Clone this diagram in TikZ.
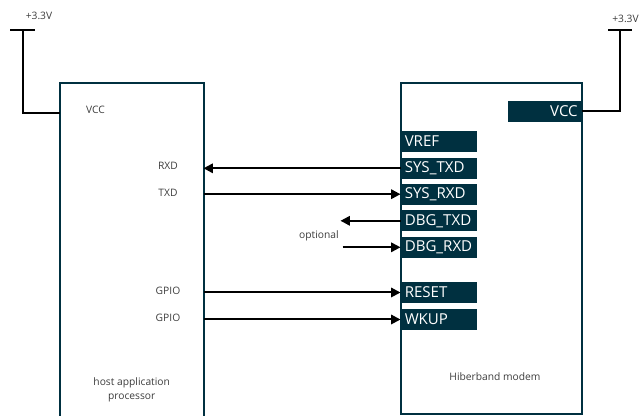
\documentclass[tikz,border=0pt]{standalone}
\usepackage{fontspec}
\setmainfont{Open Sans}
\usetikzlibrary{arrows.meta}
\definecolor{chipteal}{RGB}{0,48,64}
\definecolor{labelgray}{RGB}{60,60,60}

\begin{document}
\begin{tikzpicture}[x=0.75pt,y=-0.75pt]

%
% Styles
%
\tikzstyle{chip}   = [draw=chipteal,line width=1.5pt]
\tikzstyle{wire}   = [draw=black,line width=1.5pt]
\tikzstyle{signal} = [wire,-{Triangle[length=7pt,width=7pt]}]
\tikzstyle{label}  = [text=labelgray,font=\fontsize{7.7}{10.5}\selectfont,inner sep=0pt]
\tikzstyle{pin}    = [fill=chipteal,text=white,anchor=west,minimum width=57pt,minimum height=15.5pt,
                      inner xsep=3pt,inner ysep=0pt,align=left,text width=51pt,font=\fontsize{11.3}{12}\selectfont]

\useasboundingbox (0,0) rectangle (643,416);

% the two chips
\draw[chip] (60,83) rectangle (203.5,422);
\draw[chip] (400.5,83) rectangle (582,414.5);

\node[label] (hostname) at (131.7,389.5) [align=center] {host application\\processor};
\node[label] (modemname) at (495,377) {Hiberband modem};

% host side pin labels
\node[label] (hostvcc)  at (95.5,110)  {VCC};
\node[label] (hostrxd)  at (168,165.7) {RXD};
\node[label] (hosttxd)  at (168,192.7) {TXD};
\node[label] (hostgpioa) at (168,290.7) {GPIO};
\node[label] (hostgpiob) at (168,317.7) {GPIO};

% modem side pins
\node[pin,anchor=east,align=right,minimum width=55pt,text width=49pt] (vcc) at (582,111.2) {VCC};
\node[pin] (vref)   at (400.5,141.3) {VREF};
\node[pin] (systxd) at (400.5,168.3) {SYS\_TXD};
\node[pin] (sysrxd) at (400.5,194.2) {SYS\_RXD};
\node[pin] (dbgtxd) at (400.5,220.8) {DBG\_TXD};
\node[pin] (dbgrxd) at (400.5,247.3) {DBG\_RXD};
\node[pin] (reset)  at (400.5,292.5) {RESET};
\node[pin] (wkup)   at (400.5,319.5) {WKUP};

% edge points on the host chip
\coordinate (hostpwr)  at (60,113);
\coordinate (rxdpin)   at (203.5,168.3);
\coordinate (txdpin)   at (203.5,194.2);
\coordinate (gpioapin) at (203.5,292.5);
\coordinate (gpiobpin) at (203.5,319.5);
\coordinate (dbgout)   at (340.5,220.8);
\coordinate (dbgin)    at (342.5,247.3);

% supplies
\node[label] (supplyltext) at (39,16) {+3.3V};
\node[label,anchor=west] (supplyrtext) at (612,19) {+3.3V};
\coordinate (supplyl) at (22.7,29.7);
\coordinate (supplyr) at (620,29.7);
\draw[wire] ([xshift=-9.2pt]supplyl) -- ([xshift=9.2pt]supplyl);
\draw[wire] ([xshift=-9pt]supplyr) -- ([xshift=8.8pt]supplyr);
\draw[wire] (supplyl) |- (hostpwr);
\draw[wire] (supplyr) |- (vcc.east);

% signals
\draw[signal] (systxd.west) -- (rxdpin);
\draw[signal] (txdpin) -- (sysrxd.west);
\draw[signal] (dbgtxd.west) -- (dbgout);
\draw[signal] (dbgin) -- (dbgrxd.west);
\draw[signal] (gpioapin) -- (reset.west);
\draw[signal] (gpiobpin) -- (wkup.west);

\node[label] (optional) at (319,235.5) {optional};

\end{tikzpicture}
\end{document}
